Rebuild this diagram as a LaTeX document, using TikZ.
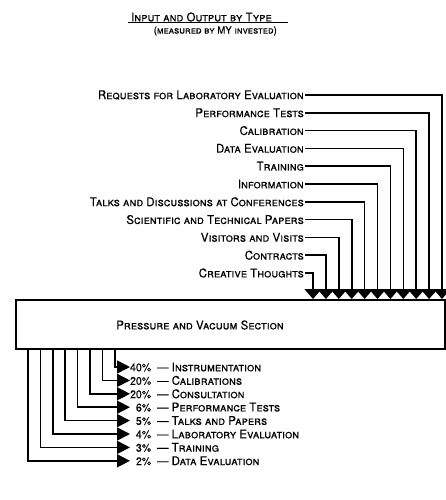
\documentclass[tikz,border=0pt]{standalone}
\usepackage{fontspec}
\setmainfont{TeX Gyre Heros}[FakeStretch=0.96, FakeBold=0.3]
\usetikzlibrary{arrows.meta}

\tikzset{
    lettering/.style={font=\fontsize{12}{14}\selectfont\scshape},
    inlbl/.style={lettering, anchor=east, inner sep=1pt},
    outlbl/.style={lettering, anchor=west, inner sep=1pt},
    infeed/.style={line width=1.6pt, -{Triangle[width=17pt,length=10pt]}},
    outfeed/.style={line width=1.6pt, -{Triangle[width=13pt,length=13pt]}},
}
\newcommand{\pct}[2]{\makebox[20pt][r]{\fontsize{11}{13}\selectfont #1\%}\hspace{6pt}---\hspace{3pt}#2}

\begin{document}
\begin{tikzpicture}[x=1pt,y=-1pt]
\useasboundingbox (0,0) rectangle (445,500);

% heading
\node[lettering, anchor=east, inner sep=1pt] (title) at (273,17) {Input and Output by Type};
\draw[line width=1.2pt] ([xshift=-2pt]title.south west) -- ([xshift=15pt]title.south east);
\node[anchor=east, inner sep=1pt, font=\fontsize{10}{12}\selectfont\scshape] (subtitle) at (278,31) {(measured by MY invested)};

% the section
\node[draw, line width=1.6pt, minimum width=429pt, minimum height=49pt, inner sep=0pt, anchor=north west] (pvs) at (15,299) {};
\node[lettering] (pvslabel) at (200,325) {Pressure and Vacuum Section};

% inputs
\node[inlbl] (in1) at (305,95) {Requests for Laboratory Evaluation};
\node[inlbl] (in2) at (305,112.8) {Performance Tests};
\node[inlbl] (in3) at (305,130.6) {Calibration};
\node[inlbl] (in4) at (305,148.4) {Data Evaluation};
\node[inlbl] (in5) at (305,166.2) {Training};
\node[inlbl] (in6) at (305,184) {Information};
\node[inlbl] (in7) at (305,201.8) {Talks and Discussions at Conferences};
\node[inlbl] (in8) at (305,219.6) {Scientific and Technical Papers};
\node[inlbl] (in9) at (305,237.4) {Visitors and Visits};
\node[inlbl] (in10) at (305,255.2) {Contracts};
\node[inlbl] (in11) at (305,273) {Creative Thoughts};

\foreach \i/\x in {1/442,2/429.1,3/416.2,4/403.3,5/390.4,6/377.5,7/364.6,8/351.7,9/338.8,10/325.9,11/313}{
    \coordinate (top\i) at (\x,299);
    \draw[infeed] (in\i.east) -| (top\i);
}

% outputs
\node[outlbl] (out1) at (130,367) {\pct{40}{Instrumentation}};
\node[outlbl] (out2) at (130,380.4) {\pct{20}{Calibrations}};
\node[outlbl] (out3) at (130,393.8) {\pct{20}{Consultation}};
\node[outlbl] (out4) at (130,407.2) {\pct{6}{Performance Tests}};
\node[outlbl] (out5) at (130,420.6) {\pct{5}{Talks and Papers}};
\node[outlbl] (out6) at (130,434) {\pct{4}{Laboratory Evaluation}};
\node[outlbl] (out7) at (130,447.4) {\pct{3}{Training}};
\node[outlbl] (out8) at (130,460.8) {\pct{2}{Data Evaluation}};

\foreach \j/\x in {1/114.8,2/102.4,3/90,4/77.6,5/65.2,6/52.8,7/40.4,8/28}{
    \coordinate (bot\j) at (\x,348);
    \draw[outfeed] (bot\j) |- (out\j.west);
}
\end{tikzpicture}
\end{document}
